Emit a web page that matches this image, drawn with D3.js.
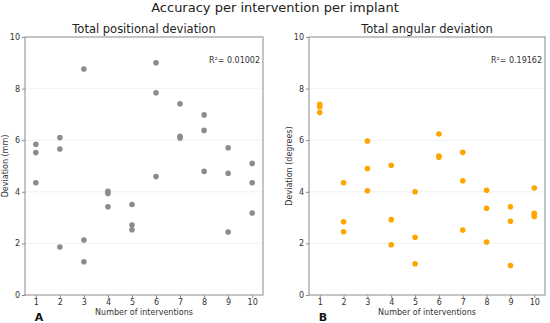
<!DOCTYPE html>
<html>
<head>
<meta charset="utf-8">
<script src="https://cdn.jsdelivr.net/npm/d3@7"></script>
<style>
  body { margin: 0; background: #fff; }
  svg { font-family: "DejaVu Sans", sans-serif; }
</style>
</head>
<body>
<div id="vis"></div>
<script>
const width = 550;
const height = 323;

// number of interventions for each implant
const posX = [1,1,1, 2,2,2, 3,3,3, 4,4,4, 5,5,5, 6,6,6, 7,7,7, 8,8,8, 9,9,9, 10,10,10];
const posY = [5.84,5.52,4.35, 6.10,5.66,1.86, 8.76,2.13,1.29, 4.02,3.93,3.42,
  3.51,2.71,2.53, 9.0,7.84,4.59, 7.41,6.15,6.09, 6.98,6.38,4.79,
  5.71,4.72,2.44, 5.10,4.35,3.18];

const angX = [1,1,1, 2,2,2, 3,3,3, 4,4,4, 5,5,5, 6,6,6, 7,7,7, 8,8,8, 9,9,9, 10,10,10,10];
const angY = [7.39,7.30,7.07, 4.35,2.84,2.45, 5.97,4.90,4.04, 5.03,2.92,1.95,
  4.00,2.24,1.21, 6.24,5.39,5.34, 5.53,4.43,2.52, 4.06,3.36,2.05,
  3.42,2.86,1.14, 4.15,3.17,3.10,3.04];

const xTicks = [1,2,3,4,5,6,7,8,9,10];
const yTicks = [0,2,4,6,8,10];

const svg = d3.select("#vis").append("svg")
  .attr("width", width)
  .attr("height", height);

svg.append("text")
  .attr("x", 275).attr("y", 12)
  .attr("text-anchor", "middle")
  .style("font-size", "13px")
  .attr("fill", "#222")
  .text("Accuracy per intervention per implant");

function panel(opts) {
  const x = d3.scaleLinear().domain([0.55, 10.45]).range([opts.left, opts.right]);
  const y = d3.scaleLinear().domain([0, 10]).range([295, 37]);
  const g = svg.append("g");

  // faint grid
  g.selectAll(".grid").data(yTicks.filter(t => t > 0 && t < 10)).enter()
    .append("line")
    .attr("x1", opts.left).attr("x2", opts.right)
    .attr("y1", d => y(d)).attr("y2", d => y(d))
    .attr("stroke", "#eeeeee").attr("stroke-width", 0.8);

  g.append("rect")
    .attr("x", opts.left).attr("y", 37)
    .attr("width", opts.right - opts.left).attr("height", 258)
    .attr("fill", "none").attr("stroke", "#8a8a8a").attr("stroke-width", 1);

  const xAxis = g.append("g").attr("transform", "translate(0,295)")
    .call(d3.axisBottom(x).tickValues(xTicks).tickSize(3).tickPadding(1));
  const yAxis = g.append("g").attr("transform", `translate(${opts.left},0)`)
    .call(d3.axisLeft(y).tickValues(yTicks).tickSize(3).tickPadding(2));
  [xAxis, yAxis].forEach(a => {
    a.select(".domain").remove();
    a.selectAll("line").attr("stroke", "#8a8a8a");
    a.selectAll("text").attr("fill", "#333").style("font-size", "8px")
      .style("font-family", "DejaVu Sans, sans-serif");
  });

  g.selectAll(".dot").data(opts.xs.map((d, i) => [d, opts.ys[i]])).enter()
    .append("circle")
    .attr("cx", d => x(d[0])).attr("cy", d => y(d[1]))
    .attr("r", 2.8)
    .attr("fill", opts.color);

  g.append("text")
    .attr("x", (opts.left + opts.right) / 2).attr("y", 33)
    .attr("text-anchor", "middle").style("font-size", "11.5px").attr("fill", "#222")
    .text(opts.title);

  g.append("text")
    .attr("x", opts.right - 3).attr("y", 63)
    .attr("text-anchor", "end").style("font-size", "8px").attr("fill", "#333")
    .text(opts.r2);

  g.append("text")
    .attr("x", (opts.left + opts.right) / 2).attr("y", 315)
    .attr("text-anchor", "middle").style("font-size", "8px").attr("fill", "#333")
    .text("Number of interventions");

  g.append("text")
    .attr("transform", `translate(${opts.ylabX},166) rotate(-90)`)
    .attr("text-anchor", "middle").style("font-size", "8px").attr("fill", "#333")
    .text(opts.ylabel);

  g.append("text")
    .attr("x", opts.tagX).attr("y", 321)
    .attr("text-anchor", "middle").style("font-size", "11px").style("font-weight", "bold")
    .attr("fill", "#111")
    .text(opts.tag);
}

panel({ left: 25, right: 263, xs: posX, ys: posY, color: "#8c8c8c",
  title: "Total positional deviation", r2: "R²= 0.01002",
  ylabel: "Deviation (mm)", ylabX: 8, tag: "A", tagX: 39 });

panel({ left: 309, right: 545, xs: angX, ys: angY, color: "#ffa500",
  title: "Total angular deviation", r2: "R²= 0.19162",
  ylabel: "Deviation (degrees)", ylabX: 292, tag: "B", tagX: 323 });
</script>
</body>
</html>
